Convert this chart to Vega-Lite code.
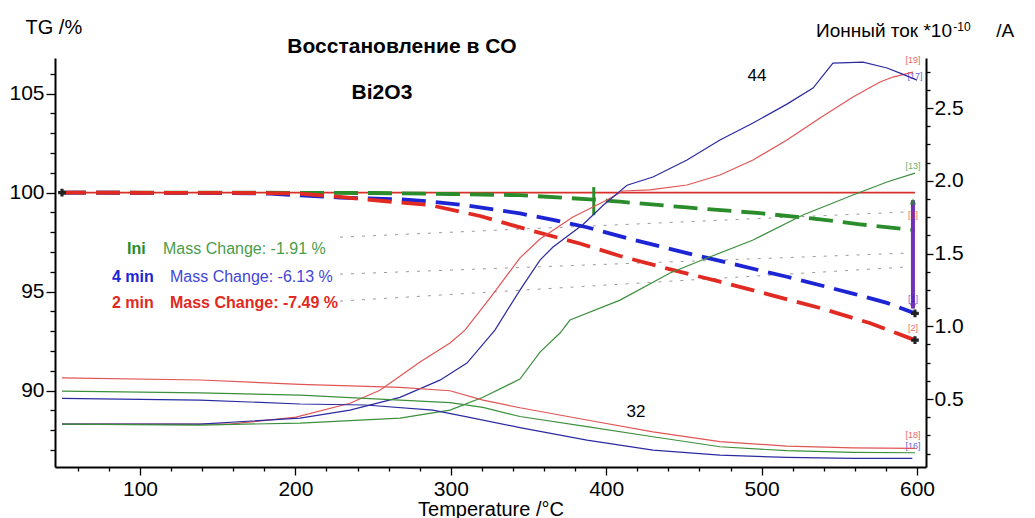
{
"$schema": "https://vega.github.io/schema/vega-lite/v6.json",
"width": 871, "height": 409,
"autosize": {"type": "none"},
"padding": {"left": 55, "top": 58, "right": 109, "bottom": 51},
"background": "white",
"config": {"view": {"stroke": null}, "font": "Liberation Sans",
  "axis": {"grid": false, "domainColor": "#000", "domainWidth": 2, "tickColor": "#000", "tickWidth": 1.3, "labelFont": "Liberation Sans", "labelFontSize": 21, "labelColor": "#000", "titleFont": "Liberation Sans", "titleFontWeight": "normal", "titleColor": "#000"}},
"datasets": {
  "ref": [{"t": 49.8, "tg": 100}, {"t": 598.7, "tg": 100}],
  "conn": [
    {"id": "g", "t": 228.7, "tg": 97.75}, {"id": "g", "t": 592.3, "tg": 99.02},
    {"id": "b", "t": 228.7, "tg": 95.88}, {"id": "b", "t": 592.3, "tg": 96.94},
    {"id": "r", "t": 228.7, "tg": 94.52}, {"id": "r", "t": 592.3, "tg": 96.24}
  ],
  "tg": [
    {"series": "Ini", "t": 49.8, "tg": 100}, {"series": "Ini", "t": 150, "tg": 100}, {"series": "Ini", "t": 250, "tg": 99.98}, {"series": "Ini", "t": 300, "tg": 99.93}, {"series": "Ini", "t": 344.5, "tg": 99.87}, {"series": "Ini", "t": 392, "tg": 99.65}, {"series": "Ini", "t": 408.9, "tg": 99.54}, {"series": "Ini", "t": 452, "tg": 99.25}, {"series": "Ini", "t": 499, "tg": 98.96}, {"series": "Ini", "t": 537.6, "tg": 98.65}, {"series": "Ini", "t": 563.3, "tg": 98.4}, {"series": "Ini", "t": 598.7, "tg": 98.1},
    {"series": "4 min", "t": 49.8, "tg": 100}, {"series": "4 min", "t": 150, "tg": 99.98}, {"series": "4 min", "t": 183.7, "tg": 99.95}, {"series": "4 min", "t": 228.7, "tg": 99.75}, {"series": "4 min", "t": 267.3, "tg": 99.66}, {"series": "4 min", "t": 286.6, "tg": 99.55}, {"series": "4 min", "t": 307.9, "tg": 99.38}, {"series": "4 min", "t": 344.5, "tg": 98.95}, {"series": "4 min", "t": 365.8, "tg": 98.62}, {"series": "4 min", "t": 387.6, "tg": 98.25}, {"series": "4 min", "t": 413.4, "tg": 97.7}, {"series": "4 min", "t": 452, "tg": 96.94}, {"series": "4 min", "t": 473.2, "tg": 96.55}, {"series": "4 min", "t": 516.3, "tg": 95.75}, {"series": "4 min", "t": 558.8, "tg": 94.9}, {"series": "4 min", "t": 580.7, "tg": 94.43}, {"series": "4 min", "t": 598.7, "tg": 93.9},
    {"series": "2 min", "t": 49.8, "tg": 100}, {"series": "2 min", "t": 180, "tg": 99.98}, {"series": "2 min", "t": 203, "tg": 99.95}, {"series": "2 min", "t": 228.7, "tg": 99.78}, {"series": "2 min", "t": 267.3, "tg": 99.5}, {"series": "2 min", "t": 286.6, "tg": 99.37}, {"series": "2 min", "t": 318.8, "tg": 98.82}, {"series": "2 min", "t": 351, "tg": 98.1}, {"series": "2 min", "t": 383, "tg": 97.43}, {"series": "2 min", "t": 408.9, "tg": 96.8}, {"series": "2 min", "t": 440, "tg": 96.15}, {"series": "2 min", "t": 473.2, "tg": 95.5}, {"series": "2 min", "t": 505, "tg": 94.85}, {"series": "2 min", "t": 537.6, "tg": 94.17}, {"series": "2 min", "t": 570, "tg": 93.4}, {"series": "2 min", "t": 598.7, "tg": 92.55}
  ],
  "gmark": [{"t": 392, "tg": 100.28, "tg2": 98.86}],
  "arrow": [{"t": 597.4, "tg": 99.62, "tg2": 94.15}],
  "arrowTop": [{"t": 597.4, "tg": 99.55}],
  "arrowBottom": [{"t": 597.4, "tg": 94.25}],
  "cross": [{"t": 598.7, "tg": 92.55}, {"t": 598.7, "tg": 93.9}, {"t": 49.8, "tg": 100}],
  "titles": [{"text": "Восстановление в CO", "t": 268.6, "tg": 107.35}, {"text": "Bi2O3", "t": 255.7, "tg": 105.02}],
  "nums": [{"text": "44", "t": 497, "tg": 105.88}, {"text": "32", "t": 419.2, "tg": 88.91}],
  "annotBold": [
    {"text": "Ini", "series": "Ini", "t": 91.6, "tg": 97.15},
    {"text": "4 min", "series": "4 min", "t": 82.0, "tg": 95.73},
    {"text": "2 min", "series": "2 min", "t": 82.0, "tg": 94.42},
    {"text": "Mass Change: -7.49 %", "series": "2 min", "t": 119.3, "tg": 94.42}
  ],
  "annot": [
    {"text": "Mass Change: -1.91 %", "series": "Ini", "t": 114.8, "tg": 97.15},
    {"text": "Mass Change: -6.13 %", "series": "4 min", "t": 119.3, "tg": 95.73}
  ],
  "brackets": [
    {"text": "[19]", "series": "2 min", "t": 597.4, "tg": 106.69},
    {"text": "[17]", "series": "4 min", "t": 598.7, "tg": 105.88},
    {"text": "[13]", "series": "Ini", "t": 597.4, "tg": 101.34},
    {"text": "[3]", "series": "2 min", "t": 597.4, "tg": 98.86},
    {"text": "[1]", "series": "4 min", "t": 597.4, "tg": 94.62},
    {"text": "[2]", "series": "2 min", "t": 597.4, "tg": 93.16},
    {"text": "[18]", "series": "2 min", "t": 597.4, "tg": 87.75},
    {"text": "[16]", "series": "4 min", "t": 597.4, "tg": 87.2}
  ],
  "rtitleMain": [{"text": "Ионный ток *10", "t": 622.5, "ion": 2.988}, {"text": "/A", "t": 662.5, "ion": 2.988}],
  "rtitleSup": [{"text": "-10", "t": 623.4, "ion": 3.06}],
  "ion": [
    {"mz": "44", "series": "2 min", "t": 49.8, "ion": 0.328}, {"mz": "44", "series": "2 min", "t": 157.9, "ion": 0.328}, {"mz": "44", "series": "2 min", "t": 200.4, "ion": 0.376}, {"mz": "44", "series": "2 min", "t": 235.1, "ion": 0.471}, {"mz": "44", "series": "2 min", "t": 254.4, "ion": 0.561}, {"mz": "44", "series": "2 min", "t": 280.2, "ion": 0.754}, {"mz": "44", "series": "2 min", "t": 299.5, "ion": 0.885}, {"mz": "44", "series": "2 min", "t": 309.1, "ion": 0.974}, {"mz": "44", "series": "2 min", "t": 325.2, "ion": 1.194}, {"mz": "44", "series": "2 min", "t": 344.5, "ion": 1.47}, {"mz": "44", "series": "2 min", "t": 357.4, "ion": 1.6}, {"mz": "44", "series": "2 min", "t": 378.6, "ion": 1.751}, {"mz": "44", "series": "2 min", "t": 400.5, "ion": 1.868}, {"mz": "44", "series": "2 min", "t": 410.8, "ion": 1.93}, {"mz": "44", "series": "2 min", "t": 428.2, "ion": 1.937}, {"mz": "44", "series": "2 min", "t": 452.0, "ion": 1.971}, {"mz": "44", "series": "2 min", "t": 473.2, "ion": 2.04}, {"mz": "44", "series": "2 min", "t": 494.5, "ion": 2.143}, {"mz": "44", "series": "2 min", "t": 516.3, "ion": 2.28}, {"mz": "44", "series": "2 min", "t": 537.6, "ion": 2.431}, {"mz": "44", "series": "2 min", "t": 558.8, "ion": 2.576}, {"mz": "44", "series": "2 min", "t": 576.2, "ion": 2.679}, {"mz": "44", "series": "2 min", "t": 584.6, "ion": 2.713}, {"mz": "44", "series": "2 min", "t": 597.4, "ion": 2.747},
    {"mz": "44", "series": "4 min", "t": 49.8, "ion": 0.328}, {"mz": "44", "series": "4 min", "t": 138.6, "ion": 0.328}, {"mz": "44", "series": "4 min", "t": 203.0, "ion": 0.369}, {"mz": "44", "series": "4 min", "t": 235.1, "ion": 0.424}, {"mz": "44", "series": "4 min", "t": 267.3, "ion": 0.512}, {"mz": "44", "series": "4 min", "t": 293.0, "ion": 0.63}, {"mz": "44", "series": "4 min", "t": 310.4, "ion": 0.747}, {"mz": "44", "series": "4 min", "t": 328.4, "ion": 0.974}, {"mz": "44", "series": "4 min", "t": 344.5, "ion": 1.249}, {"mz": "44", "series": "4 min", "t": 357.4, "ion": 1.455}, {"mz": "44", "series": "4 min", "t": 365.8, "ion": 1.545}, {"mz": "44", "series": "4 min", "t": 385.1, "ion": 1.7}, {"mz": "44", "series": "4 min", "t": 397.9, "ion": 1.83}, {"mz": "44", "series": "4 min", "t": 413.4, "ion": 1.97}, {"mz": "44", "series": "4 min", "t": 430.1, "ion": 2.026}, {"mz": "44", "series": "4 min", "t": 452.0, "ion": 2.143}, {"mz": "44", "series": "4 min", "t": 473.2, "ion": 2.28}, {"mz": "44", "series": "4 min", "t": 494.5, "ion": 2.397}, {"mz": "44", "series": "4 min", "t": 516.3, "ion": 2.527}, {"mz": "44", "series": "4 min", "t": 533.1, "ion": 2.637}, {"mz": "44", "series": "4 min", "t": 545.9, "ion": 2.809}, {"mz": "44", "series": "4 min", "t": 565.3, "ion": 2.816}, {"mz": "44", "series": "4 min", "t": 580.7, "ion": 2.775}, {"mz": "44", "series": "4 min", "t": 589.1, "ion": 2.74}, {"mz": "44", "series": "4 min", "t": 600.0, "ion": 2.692},
    {"mz": "44", "series": "Ini", "t": 49.8, "ion": 0.328}, {"mz": "44", "series": "Ini", "t": 138.6, "ion": 0.321}, {"mz": "44", "series": "Ini", "t": 203.0, "ion": 0.335}, {"mz": "44", "series": "Ini", "t": 267.3, "ion": 0.369}, {"mz": "44", "series": "Ini", "t": 299.5, "ion": 0.424}, {"mz": "44", "series": "Ini", "t": 320.7, "ion": 0.512}, {"mz": "44", "series": "Ini", "t": 344.5, "ion": 0.637}, {"mz": "44", "series": "Ini", "t": 357.4, "ion": 0.823}, {"mz": "44", "series": "Ini", "t": 370.3, "ion": 0.954}, {"mz": "44", "series": "Ini", "t": 376.7, "ion": 1.043}, {"mz": "44", "series": "Ini", "t": 408.9, "ion": 1.18}, {"mz": "44", "series": "Ini", "t": 441.1, "ion": 1.366}, {"mz": "44", "series": "Ini", "t": 464.9, "ion": 1.469}, {"mz": "44", "series": "Ini", "t": 494.5, "ion": 1.593}, {"mz": "44", "series": "Ini", "t": 526.6, "ion": 1.765}, {"mz": "44", "series": "Ini", "t": 558.8, "ion": 1.902}, {"mz": "44", "series": "Ini", "t": 580.7, "ion": 1.992}, {"mz": "44", "series": "Ini", "t": 598.7, "ion": 2.053},
    {"mz": "32", "series": "2 min", "t": 49.8, "ion": 0.646}, {"mz": "32", "series": "2 min", "t": 138.6, "ion": 0.631}, {"mz": "32", "series": "2 min", "t": 203.0, "ion": 0.601}, {"mz": "32", "series": "2 min", "t": 267.3, "ion": 0.58}, {"mz": "32", "series": "2 min", "t": 299.5, "ion": 0.557}, {"mz": "32", "series": "2 min", "t": 320.7, "ion": 0.493}, {"mz": "32", "series": "2 min", "t": 344.5, "ion": 0.44}, {"mz": "32", "series": "2 min", "t": 387.6, "ion": 0.356}, {"mz": "32", "series": "2 min", "t": 430.1, "ion": 0.275}, {"mz": "32", "series": "2 min", "t": 473.2, "ion": 0.207}, {"mz": "32", "series": "2 min", "t": 516.3, "ion": 0.177}, {"mz": "32", "series": "2 min", "t": 558.8, "ion": 0.165}, {"mz": "32", "series": "2 min", "t": 598.7, "ion": 0.161},
    {"mz": "32", "series": "Ini", "t": 49.8, "ion": 0.555}, {"mz": "32", "series": "Ini", "t": 138.6, "ion": 0.543}, {"mz": "32", "series": "Ini", "t": 203.0, "ion": 0.527}, {"mz": "32", "series": "Ini", "t": 267.3, "ion": 0.493}, {"mz": "32", "series": "Ini", "t": 299.5, "ion": 0.475}, {"mz": "32", "series": "Ini", "t": 320.7, "ion": 0.443}, {"mz": "32", "series": "Ini", "t": 344.5, "ion": 0.38}, {"mz": "32", "series": "Ini", "t": 387.6, "ion": 0.31}, {"mz": "32", "series": "Ini", "t": 430.1, "ion": 0.241}, {"mz": "32", "series": "Ini", "t": 473.2, "ion": 0.172}, {"mz": "32", "series": "Ini", "t": 516.3, "ion": 0.145}, {"mz": "32", "series": "Ini", "t": 558.8, "ion": 0.134}, {"mz": "32", "series": "Ini", "t": 598.7, "ion": 0.131},
    {"mz": "32", "series": "4 min", "t": 49.8, "ion": 0.505}, {"mz": "32", "series": "4 min", "t": 138.6, "ion": 0.493}, {"mz": "32", "series": "4 min", "t": 203.0, "ion": 0.466}, {"mz": "32", "series": "4 min", "t": 245, "ion": 0.459}, {"mz": "32", "series": "4 min", "t": 288.5, "ion": 0.424}, {"mz": "32", "series": "4 min", "t": 310.4, "ion": 0.378}, {"mz": "32", "series": "4 min", "t": 344.5, "ion": 0.304}, {"mz": "32", "series": "4 min", "t": 387.6, "ion": 0.218}, {"mz": "32", "series": "4 min", "t": 430.1, "ion": 0.149}, {"mz": "32", "series": "4 min", "t": 473.2, "ion": 0.115}, {"mz": "32", "series": "4 min", "t": 516.3, "ion": 0.099}, {"mz": "32", "series": "4 min", "t": 558.8, "ion": 0.092}, {"mz": "32", "series": "4 min", "t": 597, "ion": 0.092}
  ]
},
"layer": [
  {
    "encoding": {
      "x": {"field": "t", "type": "quantitative", "scale": {"domain": [45.3, 605.8], "nice": false, "zero": false},
        "axis": {"values": [60,80,100,120,140,160,180,200,220,240,260,280,300,320,340,360,380,400,420,440,460,480,500,520,540,560,580,600],
          "labelExpr": "datum.value % 100 === 0 ? datum.label : ''",
          "tickSize": {"condition": {"test": "datum.value % 100 === 0", "value": 8}, "value": 4},
          "labelPadding": 3, "labelOverlap": false, "labelFlush": false,
          "title": "Temperature /°C", "titleFontSize": 20, "titleY": 48, "titleBaseline": "alphabetic"}},
      "y": {"field": "tg", "type": "quantitative", "scale": {"domain": [86.14, 106.8], "nice": false, "zero": false},
        "axis": {"values": [87,88,89,90,91,92,93,94,95,96,97,98,99,100,101,102,103,104,105,106],
          "labelExpr": "datum.value % 5 === 0 ? datum.label : ''",
          "tickSize": {"condition": {"test": "datum.value % 5 === 0", "value": 9}, "value": 5},
          "labelPadding": 2, "labelOverlap": false, "labelFlush": false,
          "title": "TG /%", "titleFontSize": 20, "titleAngle": 0, "titleAlign": "left", "titleBaseline": "middle", "titleX": -30, "titleY": -31}}
    },
    "layer": [
      {"data": {"name": "ref"}, "mark": {"type": "line", "color": "#d8302a", "strokeWidth": 1.6}, "encoding": {}},
      {"data": {"name": "conn"}, "mark": {"type": "line", "color": "#9a9a9a", "strokeWidth": 1, "strokeDash": [3, 8]}, "encoding": {"detail": {"field": "id"}}},
      {"data": {"name": "tg"}, "mark": {"type": "line", "strokeWidth": 3.8, "strokeDash": [24, 10]},
        "encoding": {"color": {"field": "series", "type": "nominal", "scale": {"domain": ["Ini", "4 min", "2 min"], "range": ["#2a8c2a", "#1c24d4", "#e02a22"]}, "legend": null}}},
      {"data": {"name": "gmark"}, "mark": {"type": "rule", "color": "#2a8c2a", "strokeWidth": 3}, "encoding": {"y2": {"field": "tg2"}}},
      {"data": {"name": "arrow"}, "mark": {"type": "rule", "color": "#7030b8", "strokeWidth": 4}, "encoding": {"y2": {"field": "tg2"}}},
      {"data": {"name": "arrowTop"}, "mark": {"type": "point", "shape": "triangle-up", "filled": true, "color": "#2a8c2a", "size": 50}, "encoding": {}},
      {"data": {"name": "arrowBottom"}, "mark": {"type": "point", "shape": "triangle-down", "filled": true, "color": "#7030b8", "size": 50}, "encoding": {}},
      {"data": {"name": "cross"}, "mark": {"type": "point", "shape": "cross", "filled": true, "color": "#222", "size": 60, "opacity": 1}, "encoding": {}},
      {"data": {"name": "titles"}, "mark": {"type": "text", "fontSize": 21, "fontWeight": "bold", "color": "#000", "align": "center", "baseline": "middle"}, "encoding": {"text": {"field": "text"}}},
      {"data": {"name": "nums"}, "mark": {"type": "text", "fontSize": 17, "color": "#000", "align": "center", "baseline": "middle"}, "encoding": {"text": {"field": "text"}}},
      {"data": {"name": "annotBold"}, "mark": {"type": "text", "fontSize": 16, "fontWeight": "bold", "align": "left", "baseline": "middle"},
        "encoding": {"text": {"field": "text"}, "color": {"field": "series", "type": "nominal", "legend": null}}},
      {"data": {"name": "annot"}, "mark": {"type": "text", "fontSize": 16, "align": "left", "baseline": "middle", "opacity": 0.85},
        "encoding": {"text": {"field": "text"}, "color": {"field": "series", "type": "nominal", "legend": null}}},
      {"data": {"name": "brackets"}, "mark": {"type": "text", "fontSize": 9, "align": "center", "baseline": "middle", "opacity": 0.7},
        "encoding": {"text": {"field": "text"}, "color": {"field": "series", "type": "nominal", "legend": null}}}
    ]
  },
  {
    "encoding": {
      "x": {"field": "t", "type": "quantitative", "scale": {"domain": [45.3, 605.8], "nice": false, "zero": false},
        "axis": {"values": [60,80,100,120,140,160,180,200,220,240,260,280,300,320,340,360,380,400,420,440,460,480,500,520,540,560,580,600],
          "labelExpr": "datum.value % 100 === 0 ? datum.label : ''",
          "tickSize": {"condition": {"test": "datum.value % 100 === 0", "value": 8}, "value": 4},
          "labelPadding": 3, "labelOverlap": false, "labelFlush": false,
          "title": "Temperature /°C", "titleFontSize": 20, "titleY": 48, "titleBaseline": "alphabetic"}},
      "y": {"field": "ion", "type": "quantitative", "scale": {"domain": [0.033, 2.844], "nice": false, "zero": false},
        "axis": {"orient": "right", "values": [0.125,0.25,0.375,0.5,0.625,0.75,0.875,1,1.125,1.25,1.375,1.5,1.625,1.75,1.875,2,2.125,2.25,2.375,2.5,2.625,2.75],
          "labelExpr": "(datum.value * 2) % 1 === 0 ? format(datum.value, '.1f') : ''",
          "tickSize": {"condition": {"test": "(datum.value * 2) % 1 === 0", "value": 7}, "value": 4},
          "labelPadding": 1, "labelOverlap": false, "labelFlush": false,
          "title": null}}
    },
    "layer": [
      {"data": {"name": "ion"}, "mark": {"type": "line", "strokeWidth": 1.2},
        "encoding": {
          "color": {"field": "series", "type": "nominal", "scale": {"domain": ["Ini", "4 min", "2 min"], "range": ["#3d8f3d", "#2b2ba0", "#e05555"]}, "legend": null},
          "detail": {"field": "mz"}}},
      {"data": {"name": "rtitleMain"}, "mark": {"type": "text", "fontSize": 19, "color": "#000", "align": "right", "baseline": "alphabetic"}, "encoding": {"text": {"field": "text"}}},
      {"data": {"name": "rtitleSup"}, "mark": {"type": "text", "fontSize": 12, "color": "#000", "align": "left", "baseline": "middle"}, "encoding": {"text": {"field": "text"}}}
    ]
  }
],
"resolve": {"scale": {"y": "independent", "color": "independent"}}
}
